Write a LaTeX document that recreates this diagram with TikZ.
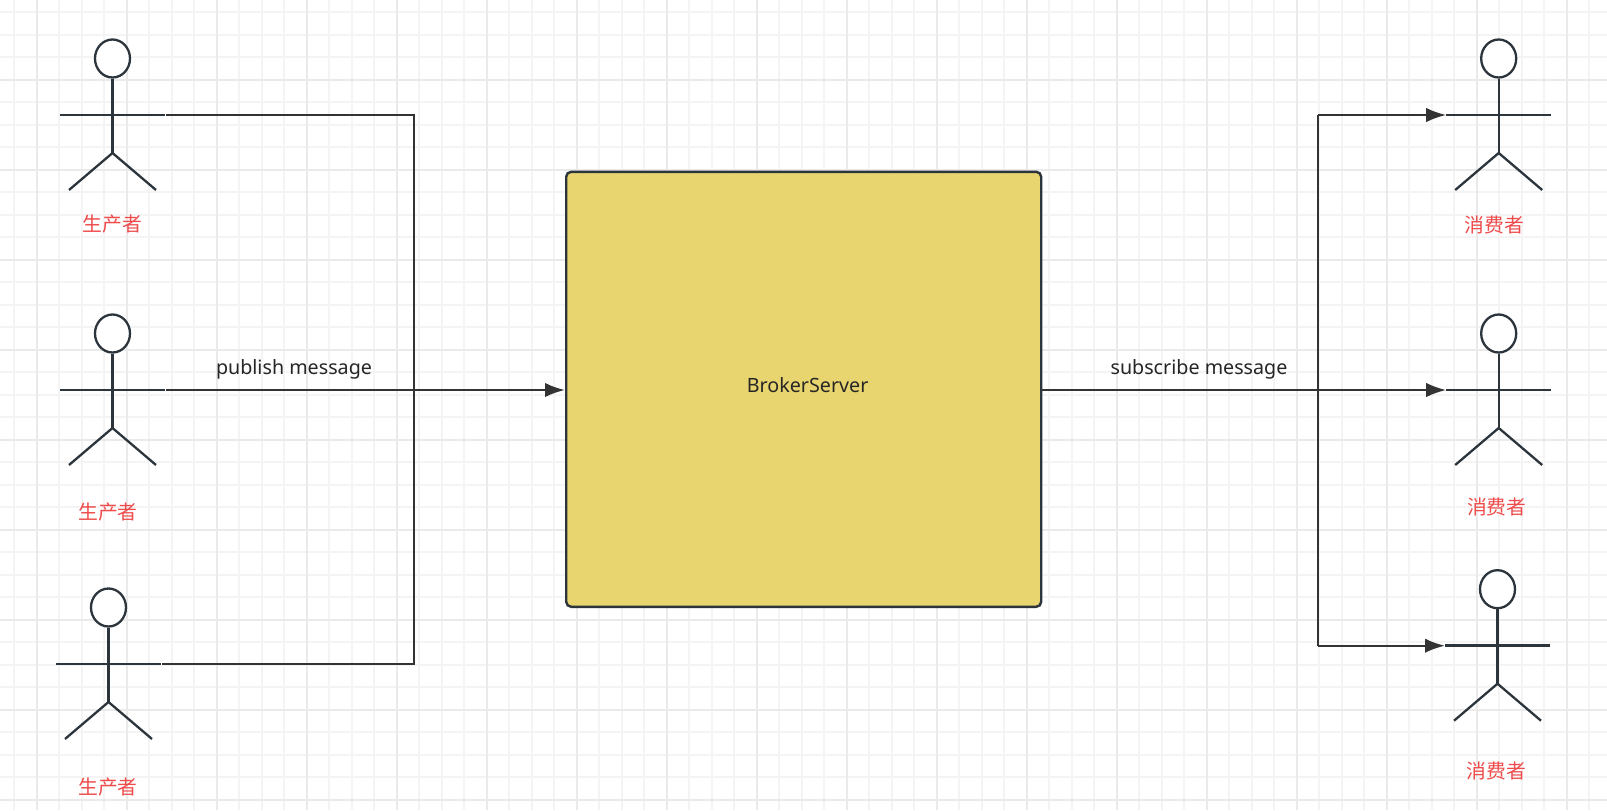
\documentclass[tikz,border=0pt]{standalone}
\usepackage{fontspec}
\setmainfont{Noto Sans}
\newfontfamily\cjk{Noto Sans CJK SC}
\usetikzlibrary{arrows.meta, shapes.geometric}

\definecolor{inkline}{HTML}{2C343C}
\definecolor{wireline}{HTML}{333333}
\definecolor{labelred}{HTML}{EE4B4B}
\definecolor{brokerfill}{HTML}{E8D56F}
\definecolor{gridminor}{HTML}{F4F4F4}
\definecolor{gridmajor}{HTML}{EAEAEA}

\tikzset{
  wire/.style={draw=wireline, line width=1.15pt},
  flow/.style={wire, -{Latex[length=10pt,width=7.2pt]}},
  rolename/.style={text=labelred, font=\cjk\fontsize{9.9}{12}\selectfont, inner sep=0pt},
  msgname/.style={text=black!85, font=\fontsize{9.85}{12}\selectfont, inner sep=0pt},
  broker/.style={draw=inkline, line width=1.2pt, fill=brokerfill, rounded corners=2.5pt},
  actor/.pic={
    \node[draw=inkline, line width=1.15pt, ellipse, fill=white, minimum width=17.5pt,
      minimum height=19pt, inner sep=0pt] (-head) at (0,-56.5) {};
    \draw[inkline, line width=1.15pt] (-head.south) -- (0,38) coordinate (-hip);
    \draw[inkline, line width=1.3pt] (-52.5,0) coordinate (-left) -- (52.5,0) coordinate (-right);
    \draw[inkline, line width=1.15pt] (-43.5,75) -- (-hip) -- (43.5,75);
  }
}

\begin{document}
\begin{tikzpicture}[x=0.5pt,y=-0.5pt]
  \useasboundingbox (0,0) rectangle (1607,810);
  \fill[white] (0,0) rectangle (1607,810);

  % grid
  \foreach \i in {0,...,71} {
    \draw[gridminor, line width=1pt] ({14.2+22.5*\i},0) -- ({14.2+22.5*\i},810);
  }
  \foreach \j in {0,...,35} {
    \draw[gridminor, line width=1pt] (0,{12+22.5*\j}) -- (1607,{12+22.5*\j});
  }
  \foreach \i in {0,...,17} {
    \draw[gridmajor, line width=1pt] ({36.7+90*\i},0) -- ({36.7+90*\i},810);
  }
  \foreach \j in {0,...,8} {
    \draw[gridmajor, line width=1pt] (0,{79.5+90*\j}) -- (1607,{79.5+90*\j});
  }

  \node[broker, minimum width=237.5pt, minimum height=217.5pt] (server) at (803.7,389.3) {};
  \node[msgname] (serverlabel) at (807.6,385.5) {BrokerServer};

  % producers
  \pic (prodA) at (112.5,115) {actor};
  \pic (prodB) at (112.5,390) {actor};
  \pic (prodC) at (108.5,664) {actor};
  \node[rolename] (prodAname) at (112.5,224.5) {生产者};
  \node[rolename] (prodBname) at (108,512.5) {生产者};
  \node[rolename] (prodCname) at (108,787.5) {生产者};

  % consumers
  \pic (consA) at (1498.7,115) {actor};
  \pic (consB) at (1498.7,390) {actor};
  \pic (consC) at (1497.5,645.7) {actor};
  \node[rolename] (consAname) at (1494.5,225) {消费者};
  \node[rolename] (consBname) at (1496.7,507) {消费者};
  \node[rolename] (consCname) at (1496.5,771) {消费者};

  \coordinate (serverin) at (server.west |- prodB-right);
  \coordinate (serverout) at (server.east |- prodB-right);
  \coordinate (joinin) at (414,390);
  \coordinate (joinout) at (1318.2,390);

  \draw[wire] ([xshift=0.5pt]prodA-right) -| (joinin);
  \draw[wire] ([xshift=0.5pt]prodC-right) -| (joinin);
  \draw[flow] ([xshift=0.5pt]prodB-right) -- (serverin);
  \draw[flow] (serverout) -- (consB-left);
  \draw[wire] (joinout |- consA-left) -- (joinout |- consC-left);
  \draw[flow] (joinout |- consA-left) -- (consA-left);
  \draw[flow] (joinout |- consC-left) -- (consC-left);

  \node[msgname] (publishname) at (294,369.5) {publish message};
  \node[msgname] (subscribename) at (1199,369.5) {subscribe message};
\end{tikzpicture}
\end{document}
